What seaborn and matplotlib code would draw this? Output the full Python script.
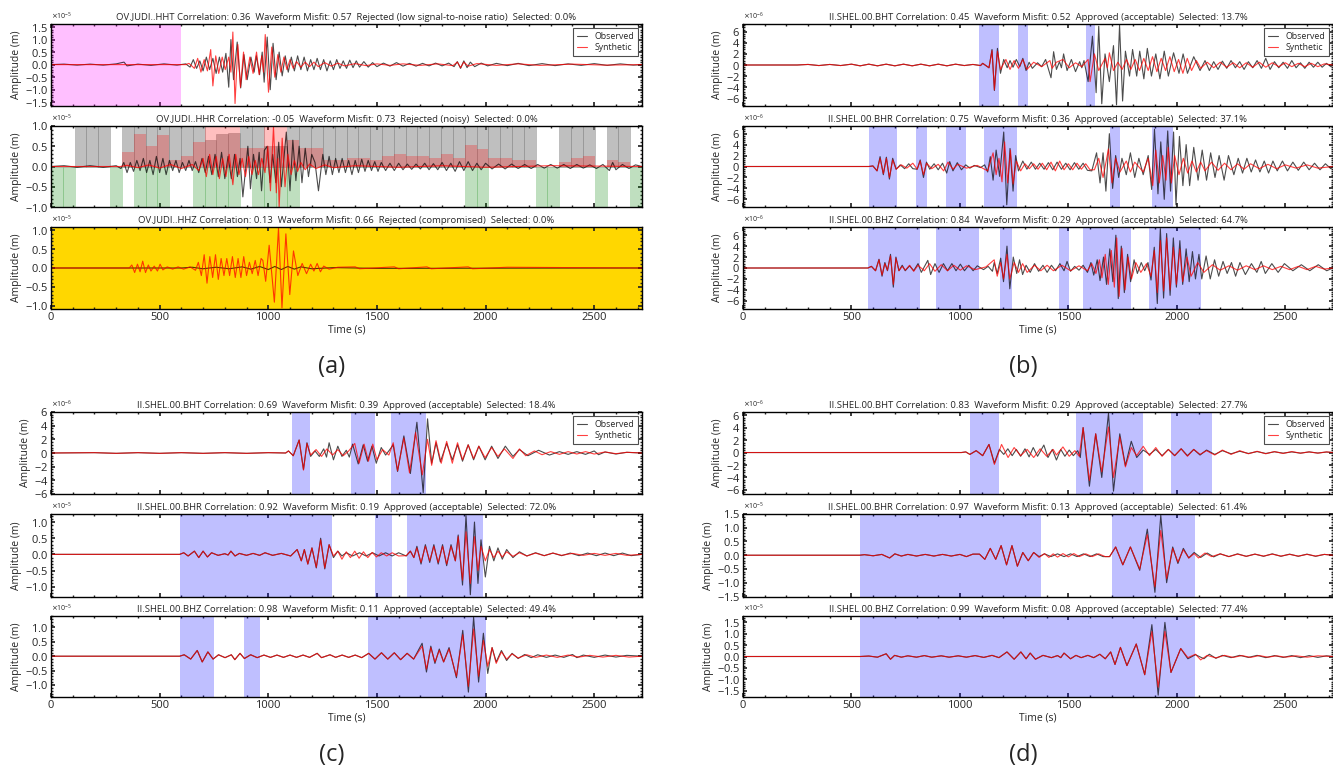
import numpy as np
import matplotlib
matplotlib.use('Agg')
import matplotlib.pyplot as plt
from matplotlib.ticker import MultipleLocator, AutoMinorLocator
import seaborn as sns

# ---------------------------------------------------------------------------
# Data (times in s, amplitudes in units of the axis exponent)
# ---------------------------------------------------------------------------
t_end = 2720

titles = {
    'a1': 'OV.JUDI..HHT Correlation: 0.36  Waveform Misfit: 0.57  Rejected (low signal-to-noise ratio)  Selected: 0.0%',
    'a2': 'OV.JUDI..HHR Correlation: -0.05  Waveform Misfit: 0.73  Rejected (noisy)  Selected: 0.0%',
    'a3': 'OV.JUDI..HHZ Correlation: 0.13  Waveform Misfit: 0.66  Rejected (compromised)  Selected: 0.0%',
    'b1': 'II.SHEL.00.BHT Correlation: 0.45  Waveform Misfit: 0.52  Approved (acceptable)  Selected: 13.7%',
    'b2': 'II.SHEL.00.BHR Correlation: 0.75  Waveform Misfit: 0.36  Approved (acceptable)  Selected: 37.1%',
    'b3': 'II.SHEL.00.BHZ Correlation: 0.84  Waveform Misfit: 0.29  Approved (acceptable)  Selected: 64.7%',
    'c1': 'II.SHEL.00.BHT Correlation: 0.69  Waveform Misfit: 0.39  Approved (acceptable)  Selected: 18.4%',
    'c2': 'II.SHEL.00.BHR Correlation: 0.92  Waveform Misfit: 0.19  Approved (acceptable)  Selected: 72.0%',
    'c3': 'II.SHEL.00.BHZ Correlation: 0.98  Waveform Misfit: 0.11  Approved (acceptable)  Selected: 49.4%',
    'd1': 'II.SHEL.00.BHT Correlation: 0.83  Waveform Misfit: 0.29  Approved (acceptable)  Selected: 27.7%',
    'd2': 'II.SHEL.00.BHR Correlation: 0.97  Waveform Misfit: 0.13  Approved (acceptable)  Selected: 61.4%',
    'd3': 'II.SHEL.00.BHZ Correlation: 0.99  Waveform Misfit: 0.08  Approved (acceptable)  Selected: 77.4%',
}

# selected time windows
win_a1 = [(0, 600)]
win_b1 = [(1087, 1179), (1266, 1312), (1579, 1621)]
win_b2 = [(580, 709), (796, 847), (934, 1027), (1110, 1262), (1690, 1740), (1884, 1984)]
win_b3 = [(576, 818), (889, 1090), (1186, 1238), (1455, 1502), (1566, 1791), (1871, 2113)]
win_c1 = [(1107, 1194), (1383, 1489), (1566, 1726)]
win_c2 = [(592, 1294), (1492, 1568), (1640, 1989)]
win_c3 = [(592, 748), (886, 961), (1458, 2002)]
win_d1 = [(1048, 1178), (1537, 1846), (1975, 2160)]
win_d2 = [(538, 1373), (1702, 2084)]
win_d3 = [(541, 2084)]

# noise / signal bars of OV.JUDI..HHR (50 windows)
bar_width = 54.4
bar_gray = [0, 0, 1, 1, 1, 0, 1, 1, 1, 1, 1, 1, 1, 0.65, 0.8, 0.83, 1, 1, 0.5, 0.5,
            1, 1, 1, 1, 1, 1, 1, 1, 1, 1, 1, 1, 1, 1, 1, 1, 1, 1, 1, 1,
            1, 0, 0, 1, 1, 1, 0, 1, 1, 0]
bar_red = [0, 0, 0, 0, 0, 0, 0.35, 0.8, 0.5, 0.77, 0.15, 0.25, 0.6, 1, 1, 1, 0.45, 0.45, 1, 1,
           0.65, 0.45, 0.45, 0.15, 0.15, 0.2, 0.2, 0.15, 0.25, 0.3, 0.25, 0.25, 0.2, 0.3, 0.2,
           0.52, 0.42, 0.2, 0.2, 0.15, 0.15, 0, 0, 0.1, 0.2, 0.25, 0, 0.15, 0.1, 0]
bar_green = [1, 1, 0, 0, 0, 1, 0, 1, 1, 1, 0, 0, 1, 1, 1, 1, 0, 1, 1, 1,
             1, 0, 0, 0, 0, 0, 0, 0, 0, 0, 0, 0, 0, 0, 0, 1, 1, 0, 0, 0,
             0, 1, 1, 0, 0, 0, 1, 0, 0, 1]

a1_obs = [(0, 0), (60, 0.02), (120, -0.02), (180, 0.02), (240, -0.02), (300, 0.03), (336, 0.1), (350, -0.05),
          (400, 0.02), (460, -0.03), (520, 0.03), (580, -0.02), (620, 0.03), (640, -0.1), (655, 0.2), (670, -0.15),
          (685, 0.15), (700, -0.25), (715, 0.3), (730, -0.2), (745, 0.25), (760, -0.35), (775, 0.3), (790, -0.3),
          (805, 0.45), (818, -0.9), (828, 1.0), (840, -0.6), (857, 0.9), (873, -0.93), (888, 0.4), (903, -0.6),
          (920, 0.3), (935, -0.3), (945, 0.35), (960, -0.4), (972, 0.5), (981, -0.7), (995, 1.1), (1009, -1.0),
          (1022, 0.85), (1036, -0.6), (1050, 0.5), (1064, -0.45), (1078, 0.35), (1092, -0.3), (1106, 0.3),
          (1120, -0.25), (1135, 0.35), (1150, -0.2), (1165, 0.3), (1180, -0.25), (1195, 0.2), (1210, -0.2),
          (1225, 0.25), (1240, -0.2), (1255, 0.2), (1270, -0.25), (1285, 0.15), (1300, -0.2), (1315, 0.2),
          (1330, -0.15), (1345, 0.15), (1360, -0.15), (1375, 0.18), (1390, -0.12), (1405, 0.15), (1420, -0.1),
          (1440, 0.12), (1460, -0.1), (1480, 0.08), (1500, -0.08), (1530, 0.06), (1560, -0.06), (1590, 0.08),
          (1620, -0.06), (1650, 0.05), (1680, -0.06), (1710, 0.05), (1740, -0.05), (1770, 0.06), (1800, -0.05),
          (1830, 0.06), (1855, -0.08), (1870, 0.12), (1885, -0.15), (1900, 0.15), (1915, -0.12), (1930, 0.1),
          (1950, -0.08), (1980, 0.06), (2010, -0.05), (2050, 0.05), (2100, -0.04), (2150, 0.05), (2200, -0.04),
          (2260, 0.04), (2320, -0.04), (2380, 0.03), (2440, -0.03), (2500, 0.04), (2560, -0.03), (2620, 0.03),
          (2680, -0.02), (2720, 0)]
a1_syn = [(0, 0), (620, 0), (635, 0.05), (660, -0.15), (675, 0.25), (690, -0.3), (705, 0.2), (720, -0.25),
          (735, 0.6), (745, -0.85), (758, 0.35), (772, -0.35), (788, 0.3), (802, -0.2), (818, 0.3), (828, -0.3),
          (837, 1.3), (847, -1.55), (860, 0.8), (872, -0.9), (886, 0.5), (898, -0.6), (915, 0.3), (930, -0.35),
          (946, 0.5), (958, -0.4), (970, 0.35), (978, -0.3), (986, 1.2), (1001, -1.1), (1016, 0.7), (1030, -0.5),
          (1044, 0.4), (1058, -0.3), (1072, 0.3), (1086, -0.2), (1100, 0.2), (1115, -0.15), (1130, 0.12),
          (1150, -0.1), (1170, 0.1), (1190, -0.08), (1210, 0.1), (1230, -0.08), (1260, 0.08), (1290, -0.06),
          (1320, 0.06), (1350, -0.05), (1400, 0.04), (1450, -0.04), (1500, 0.03), (1560, -0.03), (1620, 0.03),
          (1700, -0.03), (1780, 0.03), (1850, -0.04), (1870, 0.1), (1885, -0.12), (1900, 0.1), (1920, -0.06),
          (1960, 0.04), (2050, -0.03), (2150, 0.03), (2250, -0.03), (2400, 0.02), (2550, -0.02), (2720, 0)]

a2_obs = [(0, 0), (60, 0.02), (120, -0.02), (180, 0.02), (240, -0.02), (300, 0.02), (322, -0.05), (335, 0.1),
          (350, -0.15), (365, 0.1), (380, -0.12), (395, 0.15), (410, -0.1), (425, 0.2), (440, -0.15), (455, 0.15),
          (470, -0.2), (485, 0.25), (500, -0.15), (515, 0.2), (530, -0.2), (545, 0.15), (560, -0.1), (575, 0.15),
          (590, -0.15), (605, 0.1), (620, -0.1), (635, 0.15), (650, -0.1), (665, 0.12), (680, -0.15), (695, 0.2),
          (710, -0.15), (725, 0.25), (740, -0.2), (755, 0.3), (770, -0.25), (785, 0.35), (800, -0.3), (815, 0.25),
          (830, -0.3), (845, 0.3), (858, -0.25), (870, 0.2), (883, -0.75), (906, 0.5), (918, -0.55), (932, 0.3),
          (946, -0.3), (958, 0.35), (969, -0.6), (982, 0.4), (995, 0.5), (1008, -0.4), (1020, 0.3), (1035, -0.4),
          (1048, 0.6), (1060, -0.5), (1083, 0.85), (1100, -0.6), (1113, 0.65), (1127, -0.35), (1142, 0.5),
          (1155, -0.4), (1170, 0.45), (1185, -0.25), (1200, 0.3), (1215, 0.1), (1231, -0.6), (1251, 0.3),
          (1265, -0.2), (1280, 0.25), (1295, -0.2), (1310, 0.2), (1325, -0.15), (1340, 0.2), (1355, -0.15),
          (1370, 0.15), (1385, -0.2), (1400, 0.15), (1415, -0.15), (1430, 0.18), (1445, -0.12), (1460, 0.15),
          (1475, -0.1), (1490, 0.12), (1505, -0.12), (1520, 0.1), (1540, -0.1), (1560, 0.08), (1580, -0.1),
          (1600, 0.08), (1620, -0.08), (1640, 0.06), (1660, -0.07), (1680, 0.06), (1700, -0.06), (1720, 0.08),
          (1740, -0.08), (1760, 0.07), (1780, -0.08), (1800, 0.1), (1820, -0.1), (1840, 0.08), (1860, -0.12),
          (1880, 0.12), (1900, -0.1), (1920, 0.12), (1940, -0.1), (1960, 0.08), (1980, -0.08), (2000, 0.08),
          (2030, -0.06), (2060, 0.06), (2090, -0.06), (2120, 0.06), (2150, -0.05), (2180, 0.05), (2210, -0.05),
          (2240, 0.05), (2270, -0.04), (2300, 0.05), (2330, -0.04), (2360, 0.05), (2390, -0.05), (2420, 0.05),
          (2450, -0.04), (2480, 0.04), (2510, -0.05), (2540, 0.05), (2570, -0.1), (2585, 0.1), (2600, -0.08),
          (2630, 0.05), (2660, -0.05), (2690, 0.04), (2720, 0)]
a2_syn = [(0, 0), (320, 0), (350, 0.03), (400, -0.03), (450, 0.04), (500, -0.04), (550, 0.05), (600, -0.05),
          (650, 0.05), (680, -0.1), (700, 0.2), (715, -0.25), (730, 0.3), (745, -0.2), (760, 0.25), (775, -0.3),
          (790, 0.2), (805, -0.25), (820, 0.3), (837, -0.45), (850, 0.3), (865, -0.2), (880, 0.2), (895, -0.25),
          (910, 0.25), (925, -0.2), (940, 0.15), (955, -0.2), (970, 0.2), (985, -0.15), (998, 0.5), (1010, -0.6),
          (1024, 0.98), (1037, -0.65), (1044, 0.2), (1050, -1.0), (1064, 0.7), (1077, -0.5), (1090, 0.3),
          (1105, -0.2), (1120, 0.15), (1135, -0.12), (1150, 0.1), (1170, -0.08), (1190, 0.06), (1220, -0.05),
          (1260, 0.04), (1300, -0.03), (1400, 0.02), (1600, -0.02), (1800, 0.02), (2000, -0.02), (2300, 0.02),
          (2720, 0)]

a3_obs = [(0, 0), (600, 0), (650, 0.02), (700, -0.02), (760, 0.02), (820, -0.02), (880, 0.03), (920, -0.03),
          (960, 0.04), (1000, -0.04), (1030, 0.04), (1060, -0.04), (1090, 0.04), (1120, -0.03), (1150, 0.03),
          (1200, -0.02), (1300, 0.01), (1500, -0.01), (2720, 0)]
a3_syn = [(0, 0), (360, 0), (372, 0.08), (385, -0.12), (398, 0.1), (410, -0.1), (422, 0.18), (435, -0.12),
          (448, 0.08), (460, -0.08), (475, 0.05), (490, -0.08), (502, 0.1), (515, -0.05), (535, 0.03),
          (560, -0.03), (585, 0.03), (610, -0.03), (640, 0.03), (665, -0.06), (678, 0.15), (692, -0.2),
          (705, 0.35), (718, -0.4), (731, 0.3), (744, -0.25), (757, 0.35), (770, -0.3), (783, 0.25), (796, -0.2),
          (809, 0.25), (822, -0.2), (835, 0.3), (848, -0.25), (861, 0.25), (874, -0.25), (887, 0.3), (900, -0.2),
          (913, 0.15), (926, -0.15), (940, 0.2), (953, -0.2), (967, 0.25), (975, 0.2), (988, -0.35), (1004, 0.6),
          (1028, -0.9), (1047, 1.05), (1063, -1.05), (1081, 0.9), (1099, -0.7), (1116, 0.45), (1136, -0.2),
          (1156, 0.12), (1176, -0.15), (1195, 0.1), (1210, -0.08), (1225, 0.12), (1240, -0.1), (1255, 0.05),
          (1280, -0.03), (1320, 0.02), (1400, 0.03), (1420, -0.02), (1580, 0.03), (1600, -0.02), (1730, 0.03),
          (1750, -0.02), (1920, 0.03), (1940, -0.02), (2100, 0.02), (2720, 0)]

b1_obs = [(0, 0), (250, 0), (300, 0.1), (350, -0.1), (400, 0.1), (450, -0.1), (500, 0.15), (540, -0.15),
          (580, 0.15), (620, -0.15), (660, 0.15), (700, -0.15), (740, 0.15), (780, -0.15), (820, 0.15),
          (860, -0.15), (900, 0.15), (940, -0.15), (980, 0.15), (1020, -0.1), (1060, 0.1), (1095, -0.1),
          (1105, 0.3), (1134, -0.5), (1148, 2.8), (1159, -4.6), (1173, 3.0), (1187, -1.5), (1202, 1.0),
          (1218, -0.5), (1231, 0.8), (1245, -0.4), (1260, 1.0), (1276, -0.3), (1290, 1.2), (1305, -1.0),
          (1319, 0.5), (1334, -0.6), (1358, 0.4), (1377, -0.3), (1395, 1.0), (1420, -2.3), (1432, 2.4),
          (1445, -0.8), (1459, 0.6), (1468, -0.5), (1478, 2.0), (1494, -1.0), (1514, 1.0), (1533, -1.2),
          (1552, 0.6), (1562, -0.5), (1572, 0.8), (1591, -3.0), (1611, 5.2), (1628, -5.0), (1640, 7.0),
          (1654, -7.0), (1669, 2.0), (1689, -3.0), (1708, 3.5), (1722, -7.2), (1736, 7.2), (1750, -6.5),
          (1763, 2.5), (1782, -2.0), (1796, 2.8), (1815, -2.0), (1829, 2.5), (1848, -2.5), (1864, 3.0),
          (1883, -2.0), (1903, 2.0), (1922, -2.5), (1942, 2.5), (1961, -2.0), (1985, 2.2), (2010, -1.5),
          (2029, 2.0), (2049, -1.5), (2078, 1.5), (2107, -1.0), (2130, 0.8), (2150, -1.0), (2170, 0.6),
          (2190, -0.8), (2210, 0.7), (2230, -0.6), (2250, 0.8), (2270, -0.5), (2290, 0.6), (2310, -0.8),
          (2330, 0.6), (2350, -0.5), (2370, 0.8), (2390, -0.6), (2410, 1.2), (2430, -0.8), (2450, 0.6),
          (2470, -0.5), (2490, 0.5), (2510, -0.6), (2530, 0.8), (2550, -0.5), (2570, 0.4), (2590, -0.6),
          (2610, 0.5), (2630, -0.4), (2650, 0.5), (2670, -0.4), (2690, 0.3), (2710, -0.3), (2720, 0)]
b1_syn = [(0, 0), (250, 0), (300, 0.1), (350, -0.1), (400, 0.1), (450, -0.1), (500, 0.15), (540, -0.15),
          (580, 0.15), (620, -0.15), (660, 0.15), (700, -0.15), (740, 0.15), (780, -0.15), (820, 0.15),
          (860, -0.15), (900, 0.15), (940, -0.15), (980, 0.15), (1020, -0.1), (1060, 0.1), (1095, -0.1),
          (1105, 0.3), (1134, -0.5), (1148, 2.6), (1159, -4.5), (1173, 2.5), (1187, -0.8), (1212, 1.0),
          (1231, -0.8), (1250, 0.8), (1270, -0.6), (1290, 1.0), (1309, -0.8), (1340, 0.5), (1377, -0.3),
          (1415, 0.8), (1425, -0.6), (1445, 0.5), (1475, 1.0), (1504, -0.5), (1533, 0.4), (1562, -0.3),
          (1591, 1.0), (1600, -3.0), (1620, 2.0), (1640, -1.0), (1669, 1.2), (1680, -0.5), (1689, 2.2),
          (1708, -1.0), (1728, 0.5), (1748, -0.8), (1768, 1.0), (1788, -0.8), (1808, 1.0), (1828, -1.0),
          (1848, 1.2), (1868, -1.0), (1888, 1.5), (1908, -1.2), (1928, 1.2), (1948, -1.0), (1968, 1.5),
          (1988, -1.2), (2008, 1.0), (2028, -1.5), (2048, 1.2), (2068, -1.0), (2090, 0.8), (2110, -0.6),
          (2140, 0.5), (2170, -0.5), (2200, 0.5), (2230, -0.4), (2260, 0.4), (2290, -0.5), (2320, 0.4),
          (2350, -0.4), (2380, 0.5), (2410, -0.4), (2440, 0.4), (2470, -0.3), (2500, 0.4), (2530, -0.3),
          (2560, 0.3), (2590, -0.3), (2620, 0.3), (2650, -0.3), (2680, 0.2), (2720, 0)]

b2_obs = [(0, 0), (580, 0), (599, 0.1), (618, -0.8), (632, 1.8), (647, -1.5), (661, 1.7), (675, -2.3),
          (690, 1.5), (706, -0.5), (725, 0.3), (745, -0.4), (764, 0.5), (783, -0.4), (803, -0.5), (817, 1.2),
          (832, -2.0), (846, 0.8), (861, -0.5), (881, 0.5), (900, -0.6), (920, 0.6), (939, -1.2), (953, 0.9),
          (968, -0.8), (988, 0.7), (1007, -0.6), (1027, 0.3), (1046, -0.3), (1066, 0.2), (1095, -0.2),
          (1114, 0.3), (1128, -1.0), (1140, 1.8), (1153, -2.5), (1167, 3.0), (1183, -1.8), (1202, 6.3),
          (1216, -7.0), (1231, 3.3), (1245, -4.5), (1257, 2.0), (1270, -0.8), (1290, 1.0), (1309, -0.5),
          (1329, 0.8), (1348, -0.5), (1368, 0.6), (1388, -0.5), (1408, 0.7), (1428, -0.6), (1448, 0.8),
          (1468, -0.5), (1488, 0.6), (1508, -0.6), (1528, 0.7), (1548, -0.5), (1568, 0.6), (1588, -0.7),
          (1608, -0.8), (1630, 2.5), (1646, -3.0), (1660, 2.5), (1673, -4.5), (1689, 6.0), (1704, -4.0),
          (1718, 2.0), (1732, -2.0), (1747, 1.5), (1767, -1.5), (1786, 2.5), (1806, -2.0), (1825, 1.5),
          (1845, -1.5), (1868, 2.0), (1884, -4.2), (1897, 6.8), (1913, -5.0), (1926, 4.5), (1942, -6.0),
          (1958, 6.5), (1971, -4.5), (1985, 6.3), (1996, -7.0), (2012, 5.5), (2028, -3.5), (2043, 4.0),
          (2059, -3.5), (2078, 3.5), (2098, -2.5), (2117, 3.0), (2137, -2.5), (2156, 2.5), (2176, -2.0),
          (2195, 2.0), (2218, -2.5), (2238, 2.0), (2263, -1.5), (2283, 1.5), (2303, -1.2), (2323, 1.5),
          (2343, -1.0), (2363, 1.2), (2383, -1.0), (2403, 1.0), (2423, -1.2), (2443, 1.0), (2463, -0.8),
          (2487, 1.0), (2510, -0.8), (2535, 0.8), (2560, -0.7), (2585, 0.8), (2610, -0.6), (2635, 0.6),
          (2660, -0.6), (2685, 0.5), (2710, -0.4), (2720, 0)]
b2_syn = [(0, 0), (580, 0), (599, 0.1), (618, -0.8), (632, 1.5), (647, -1.3), (661, 1.5), (675, -2.0),
          (690, 1.2), (706, -0.5), (730, 0.3), (755, -0.3), (783, 0.6), (803, -0.5), (817, 1.0), (832, -1.5),
          (846, 0.6), (870, -0.4), (900, 0.4), (925, -0.8), (945, 0.8), (968, -0.5), (990, 0.4), (1030, -0.3),
          (1080, 0.2), (1128, -0.8), (1153, 2.5), (1167, -1.5), (1180, 1.5), (1194, -2.8), (1206, 4.5),
          (1220, -3.0), (1233, 3.0), (1245, -3.2), (1260, 1.0), (1280, -0.8), (1300, 0.5), (1320, -0.4),
          (1340, 0.5), (1360, -0.5), (1380, 0.6), (1400, -0.6), (1420, 0.8), (1440, -0.8), (1460, 1.0),
          (1480, -0.6), (1500, 0.5), (1520, -0.6), (1540, 0.6), (1560, -0.5), (1580, 0.5), (1600, -0.6),
          (1620, -0.6), (1640, 1.5), (1660, -2.0), (1685, 3.2), (1701, -3.0), (1718, 1.5), (1738, -1.0),
          (1767, 1.0), (1786, -1.0), (1806, 0.8), (1845, -1.0), (1868, 1.5), (1889, -3.5), (1903, 3.0),
          (1919, -3.0), (1935, 2.0), (1950, -2.5), (1960, 3.5), (1975, -3.0), (1990, 2.0), (2010, -1.5),
          (2030, 1.5), (2050, -1.2), (2070, 1.0), (2090, -1.0), (2110, 0.8), (2130, -0.8), (2160, 0.8),
          (2190, -0.7), (2220, 0.6), (2250, -0.6), (2280, 0.5), (2310, -0.5), (2340, 0.5), (2380, -0.4),
          (2420, 0.4), (2460, -0.4), (2500, 0.3), (2550, -0.3), (2600, 0.3), (2650, -0.3), (2720, 0)]

b3_obs = [(0, 0), (576, 0), (592, 0.3), (611, -0.5), (627, 1.6), (641, -1.5), (654, 1.0), (666, -0.5),
          (680, 2.5), (693, -3.5), (705, 2.0), (719, -0.5), (734, 0.5), (748, -0.5), (768, 0.4), (787, -0.5),
          (807, 0.8), (822, -0.8), (852, 1.4), (865, -1.2), (885, 0.8), (904, -0.8), (924, 0.8), (943, -0.5),
          (963, 0.8), (982, -0.5), (1002, 0.7), (1021, -0.5), (1041, 0.5), (1061, -0.5), (1080, 0.4),
          (1109, -0.3), (1130, 0.3), (1150, -0.6), (1158, 1.0), (1172, -1.0), (1188, 1.8), (1201, -2.5),
          (1217, 4.0), (1230, -3.8), (1246, 2.0), (1262, -1.0), (1275, 1.5), (1289, -1.2), (1305, 0.5),
          (1324, -0.8), (1344, 0.8), (1363, -0.6), (1383, 0.5), (1402, -0.8), (1422, 0.5), (1441, -0.5),
          (1461, 0.8), (1480, -0.5), (1494, 1.2), (1510, -0.6), (1529, 0.3), (1549, -0.4), (1568, 0.5),
          (1588, -0.8), (1604, 1.0), (1617, -1.3), (1633, 1.5), (1646, -2.3), (1662, 2.0), (1676, -3.0),
          (1691, 3.5), (1705, -2.5), (1719, 6.0), (1730, -5.6), (1744, 4.0), (1758, -4.5), (1773, 2.5),
          (1787, -2.5), (1803, 1.5), (1818, -1.0), (1836, 1.0), (1852, -0.5), (1867, 1.0), (1881, -2.2),
          (1896, 3.8), (1910, -6.5), (1924, 7.2), (1939, -5.5), (1953, 6.3), (1969, -5.0), (1984, 5.5),
          (1998, -3.5), (2014, 5.0), (2027, -3.0), (2043, 3.5), (2057, -2.5), (2072, 3.0), (2086, -2.0),
          (2102, 2.5), (2115, -2.0), (2135, 2.2), (2154, -2.0), (2174, 1.5), (2193, -1.5), (2213, 1.2),
          (2232, -1.0), (2252, 1.0), (2271, -1.5), (2291, 1.0), (2316, -1.2), (2344, 0.8), (2369, -0.8),
          (2389, 1.2), (2408, -1.0), (2438, 0.8), (2467, -0.8), (2496, 0.8), (2535, -0.5), (2574, 0.6),
          (2613, -0.5), (2652, 0.6), (2691, -0.5), (2720, 0)]
b3_syn = [(0, 0), (576, 0), (592, 0.3), (611, -0.5), (627, 1.5), (641, -1.3), (654, 0.8), (666, -0.4),
          (680, 2.2), (693, -3.0), (705, 1.8), (719, -0.5), (734, 0.3), (748, -0.4), (768, 0.5), (787, -0.6),
          (807, 0.5), (836, -0.5), (860, 0.8), (885, -0.6), (914, 0.6), (943, -0.5), (972, 0.5), (1002, -0.4),
          (1031, 0.4), (1070, -0.3), (1120, 0.2), (1158, 1.5), (1172, -1.5), (1188, 1.0), (1201, -2.0),
          (1217, 2.5), (1230, -2.0), (1250, 1.0), (1270, -0.8), (1289, 0.8), (1310, -0.8), (1344, 0.5),
          (1373, -0.5), (1402, 0.5), (1431, -0.5), (1470, 0.5), (1510, -0.5), (1549, 0.4), (1588, -0.5),
          (1608, 0.8), (1627, -1.0), (1643, 1.5), (1655, -1.8), (1670, 2.5), (1684, -3.0), (1698, 3.2),
          (1712, -3.5), (1723, 5.5), (1734, -5.2), (1747, 3.6), (1761, -4.0), (1775, 2.0), (1791, -2.0),
          (1811, 1.0), (1834, -0.8), (1860, 0.8), (1881, -1.5), (1896, 3.2), (1910, -4.5), (1924, 5.0),
          (1939, -4.2), (1953, 5.5), (1969, -4.0), (1984, 3.8), (1998, -3.0), (2014, 3.5), (2027, -2.5),
          (2047, 2.0), (2066, -1.5), (2096, 1.0), (2125, -0.8), (2164, 0.6), (2200, -0.4), (2240, 0.4),
          (2280, -0.4), (2320, 0.4), (2360, -0.3), (2400, 0.4), (2440, -0.3), (2480, 0.3), (2520, -0.3),
          (2560, 0.3), (2600, -0.3), (2640, 0.3), (2680, -0.2), (2720, 0)]

c_pre = [(0, 0), (200, 0.05), (300, -0.05), (400, 0.05), (500, -0.05), (600, 0.05), (700, -0.05),
         (800, 0.05), (900, -0.05), (1000, 0.05), (1080, 0)]
c1_obs = c_pre + [(1093, 0.3), (1115, -0.4), (1142, 1.9), (1162, -2.4), (1178, 1.5), (1195, -0.5),
                  (1215, 0.3), (1235, -0.5), (1255, 0.6), (1268, -0.6), (1280, 1.5), (1300, -1.0), (1320, 1.0),
                  (1339, -0.5), (1359, 0.4), (1373, -0.6), (1388, 1.3), (1414, -1.6), (1437, 1.2), (1457, -1.2),
                  (1477, 1.0), (1497, -1.5), (1520, 0.8), (1540, -0.3), (1557, 0.4), (1575, 1.2), (1595, -2.7),
                  (1624, 2.5), (1654, -3.0), (1684, 4.5), (1713, -5.8), (1733, 5.0), (1752, -1.5), (1772, 1.5),
                  (1792, -1.3), (1821, 1.4), (1847, -1.0), (1871, 1.2), (1894, -1.2), (1920, 1.2), (1945, -1.0),
                  (1969, 1.0), (1998, -1.0), (2028, 1.0), (2057, -0.8), (2091, 1.0), (2126, -0.5), (2156, 0.5),
                  (2195, -0.4), (2244, 0.4), (2294, -0.3), (2340, 0.2), (2380, -0.2), (2420, 0.2), (2460, -0.2),
                  (2500, 0.3), (2520, -0.25), (2550, 0.15), (2600, -0.15), (2650, 0.1), (2720, 0)]
c1_syn = c_pre + [(1093, 0.3), (1115, -0.4), (1142, 1.9), (1162, -2.5), (1178, 1.4), (1195, -0.3),
                  (1220, 0.5), (1245, -0.5), (1270, 0.6), (1296, -0.3), (1320, 0.5), (1345, -0.4), (1370, 0.3),
                  (1398, 1.4), (1418, -1.5), (1441, 1.3), (1461, -1.2), (1481, 1.3), (1500, -1.0), (1526, 0.5),
                  (1555, -0.3), (1575, 1.5), (1595, -2.6), (1624, 2.2), (1650, -2.9), (1678, 3.0), (1709, -3.2),
                  (1733, 2.0), (1752, -1.8), (1772, 1.8), (1796, -1.5), (1821, 1.7), (1847, -1.5), (1871, 1.5),
                  (1894, -1.0), (1920, 1.2), (1945, -0.8), (1969, 1.0), (1998, -0.7), (2028, 0.8), (2057, -0.5),
                  (2087, 0.6), (2126, -0.8), (2156, 0.6), (2185, -0.4), (2225, 0.3), (2260, -0.25), (2300, 0.2),
                  (2340, -0.2), (2380, 0.2), (2420, -0.15), (2460, 0.2), (2500, -0.15), (2550, 0.15),
                  (2600, -0.1), (2650, 0.1), (2720, 0)]

c2_pre = [(0, 0), (592, 0), (611, 0.05), (631, -0.05), (660, 0.1), (680, -0.1), (700, 0.1), (720, -0.08),
          (739, 0.05), (769, -0.03), (800, 0.02), (815, -0.02), (828, 0.1), (847, -0.05), (867, 0.03),
          (900, -0.03), (930, 0.03), (960, -0.03), (985, 0.05), (1020, -0.03), (1060, 0.03), (1103, -0.05),
          (1133, 0.15), (1152, -0.2), (1166, 0.15), (1182, -0.3), (1201, 0.2)]
c2_obs = c2_pre + [(1221, -0.42), (1241, 0.5), (1260, -0.45), (1280, 0.3), (1300, -0.1), (1320, 0.1),
                   (1339, -0.05), (1359, 0.05), (1388, -0.05), (1420, 0.05), (1450, -0.05), (1480, 0.05),
                   (1510, -0.05), (1540, 0.05), (1570, -0.05), (1600, 0.05), (1635, -0.05), (1654, 0.1),
                   (1670, -0.1), (1684, 0.25), (1703, -0.3), (1723, 0.3), (1743, -0.25), (1762, 0.3),
                   (1782, -0.3), (1802, 0.3), (1821, -0.35), (1841, 0.3), (1861, -0.2), (1874, 0.6),
                   (1894, -0.95), (1910, 1.2), (1930, -1.25), (1949, 1.0), (1965, -0.9), (1979, 0.45),
                   (1999, -0.7), (2018, 0.25), (2038, -0.2), (2057, 0.2), (2077, -0.15), (2097, 0.15),
                   (2126, -0.1), (2156, 0.08), (2190, -0.05), (2230, 0.05), (2270, -0.04), (2310, 0.04),
                   (2350, -0.04), (2390, 0.04), (2430, -0.04), (2470, 0.04), (2510, -0.04), (2550, 0.04),
                   (2590, -0.04), (2630, 0.04), (2670, -0.04), (2720, 0)]
c2_syn = c2_pre + [(1221, -0.4), (1241, 0.45), (1260, -0.42), (1280, 0.3), (1300, -0.05), (1320, 0.1),
                   (1339, -0.15), (1359, 0.08), (1378, -0.1), (1398, 0.1), (1418, -0.12), (1438, 0.08),
                   (1458, -0.1), (1478, 0.06), (1498, -0.08), (1520, 0.05), (1545, -0.05), (1570, 0.05),
                   (1600, -0.05), (1635, -0.04), (1654, 0.1), (1670, -0.1), (1684, 0.2), (1703, -0.25),
                   (1723, 0.25), (1743, -0.2), (1762, 0.25), (1782, -0.25), (1802, 0.25), (1821, -0.3),
                   (1841, 0.25), (1861, -0.2), (1874, 0.55), (1894, -0.8), (1910, 0.7), (1930, -0.9),
                   (1949, 0.55), (1965, -0.5), (1979, 0.25), (1999, -0.2), (2018, 0.15), (2038, -0.1),
                   (2057, 0.1), (2077, -0.08), (2097, 0.08), (2126, -0.06), (2156, 0.05), (2190, -0.05),
                   (2230, 0.04), (2270, -0.04), (2310, 0.04), (2350, -0.03), (2400, 0.03), (2450, -0.03),
                   (2500, 0.03), (2550, -0.03), (2600, 0.03), (2650, -0.03), (2720, 0)]

c3_pre = [(0, 0), (592, 0), (613, 0.05), (643, -0.1), (673, 0.2), (696, -0.2), (722, 0.15), (746, -0.1),
          (771, 0.05), (801, -0.05), (830, 0.05), (846, -0.12), (870, 0.1), (890, -0.08), (919, 0.05),
          (949, -0.05), (980, 0.04), (1010, -0.04), (1040, 0.04), (1070, -0.04), (1100, 0.04), (1130, -0.04),
          (1160, 0.04), (1190, -0.04), (1225, 0.1), (1245, -0.05), (1284, 0.05), (1310, -0.04), (1340, 0.04),
          (1370, -0.04), (1400, 0.04), (1430, -0.05), (1462, 0.1), (1491, -0.1), (1521, 0.12), (1550, -0.1),
          (1580, 0.12), (1609, -0.12), (1639, 0.1), (1669, -0.1)]
c3_obs = c3_pre + [(1708, 0.45), (1728, -0.55), (1748, 0.35), (1767, -0.25), (1787, 0.25), (1807, -0.2),
                   (1832, 0.3), (1866, -0.75), (1895, 0.9), (1921, -1.25), (1945, 1.35), (1968, -0.9),
                   (1990, 0.8), (2010, -0.6), (2030, 0.3), (2049, -0.2), (2073, 0.2), (2097, -0.15),
                   (2122, 0.1), (2150, -0.08), (2180, 0.06), (2210, -0.05), (2240, 0.05), (2280, -0.04),
                   (2320, 0.04), (2360, -0.04), (2400, 0.06), (2420, -0.05), (2450, 0.04), (2500, -0.04),
                   (2550, 0.04), (2600, -0.03), (2650, 0.03), (2720, 0)]
c3_syn = c3_pre + [(1708, 0.35), (1728, -0.45), (1748, 0.3), (1767, -0.2), (1787, 0.2), (1807, -0.2),
                   (1832, 0.25), (1866, -0.7), (1895, 0.75), (1921, -1.05), (1945, 0.95), (1968, -0.7),
                   (1990, 0.55), (2010, -0.35), (2030, 0.3), (2049, -0.25), (2073, 0.15), (2097, -0.1),
                   (2122, 0.08), (2150, -0.06), (2190, 0.05), (2230, -0.04), (2280, 0.04), (2330, -0.04),
                   (2380, 0.04), (2430, -0.03), (2480, 0.03), (2540, -0.03), (2600, 0.03), (2660, -0.03),
                   (2720, 0)]

d1_pre = [(0, 0), (1007, 0), (1027, 0.1), (1046, -0.3), (1075, 0.3), (1105, -0.5), (1134, 1.3)]
d1_obs = d1_pre + [(1159, -1.7), (1182, 0.5), (1202, -0.3), (1221, 0.6), (1241, -0.5), (1260, 0.5),
                   (1280, -0.6), (1300, 0.6), (1319, -0.7), (1338, 0.8), (1358, -0.6), (1387, 1.2),
                   (1406, -0.8), (1426, 0.5), (1445, -1.2), (1465, 0.5), (1484, -0.6), (1504, 0.4),
                   (1523, -0.5), (1543, 0.3), (1555, -0.8), (1568, 4.0), (1597, -5.4), (1626, 3.0),
                   (1654, -4.0), (1685, 6.3), (1708, -6.2), (1737, 3.0), (1763, -2.1), (1790, 1.8),
                   (1815, -0.8), (1845, 0.4), (1874, -0.3), (1903, 0.5), (1932, -0.5), (1961, 0.5),
                   (1990, -0.5), (2020, 0.6), (2049, -0.5), (2078, 0.5), (2107, -0.4), (2137, 0.4),
                   (2175, -0.3), (2210, 0.3), (2250, -0.2), (2290, 0.2), (2330, -0.15), (2370, 0.15),
                   (2410, -0.15), (2450, 0.12), (2490, -0.1), (2530, 0.1), (2570, -0.1), (2610, 0.1),
                   (2650, -0.08), (2690, 0.08), (2720, 0)]
d1_syn = d1_pre + [(1159, -1.9), (1192, 1.3), (1222, -0.8), (1250, 0.8), (1280, -0.5), (1310, 0.5),
                   (1340, -0.8), (1370, 0.6), (1400, -0.6), (1430, 0.5), (1445, -0.4), (1475, 0.9),
                   (1504, -0.6), (1530, 0.3), (1550, -0.6), (1568, 4.0), (1597, -4.5), (1626, 3.0),
                   (1654, -3.1), (1685, 4.1), (1708, -4.0), (1737, 2.5), (1763, -2.3), (1790, 0.8),
                   (1815, -0.5), (1845, 1.0), (1874, -0.5), (1903, 0.8), (1932, -0.6), (1961, 0.5),
                   (1990, -0.5), (2020, 0.6), (2049, -0.6), (2078, 0.5), (2107, -0.3), (2137, 0.3),
                   (2175, -0.4), (2210, 0.4), (2250, -0.3), (2290, 0.3), (2330, -0.2), (2370, 0.2),
                   (2410, -0.2), (2450, 0.15), (2490, -0.15), (2530, 0.15), (2570, -0.1), (2610, 0.1),
                   (2650, -0.1), (2690, 0.1), (2720, 0)]

d2_pre = [(0, 0), (538, 0), (560, 0.02), (600, -0.02), (640, 0.03), (676, -0.1), (700, 0.05), (730, -0.03),
          (760, 0.03), (800, -0.03), (840, 0.03), (880, -0.03), (920, 0.03), (960, -0.03), (1000, 0.03),
          (1030, -0.05), (1060, 0.04), (1090, 0.04), (1115, -0.15), (1140, 0.25), (1165, -0.15),
          (1190, 0.35), (1215, -0.35), (1240, 0.35), (1265, -0.4), (1290, 0.1), (1315, -0.2), (1340, 0.1)]
d2_obs = d2_pre + [(1365, -0.05), (1390, 0.05), (1420, -0.05), (1450, 0.05), (1480, -0.05), (1510, 0.05),
                   (1540, -0.05), (1570, 0.05), (1600, -0.05), (1630, 0.05), (1660, -0.05), (1690, -0.05),
                   (1718, 0.3), (1751, -0.35), (1786, 0.3), (1829, -0.55), (1864, 0.95), (1899, -1.35),
                   (1926, 1.45), (1953, -1.0), (1981, 0.3), (2005, -0.3), (2030, 0.25), (2055, -0.1),
                   (2080, 0.1), (2110, -0.08), (2140, 0.08), (2170, -0.06), (2200, 0.05), (2240, -0.05),
                   (2280, 0.05), (2320, -0.04), (2360, 0.04), (2400, -0.04), (2440, 0.05), (2480, -0.04),
                   (2520, 0.04), (2560, -0.04), (2600, 0.04), (2640, -0.04), (2680, 0.03), (2720, 0)]
d2_syn = d2_pre + [(1365, -0.08), (1390, 0.06), (1410, -0.08), (1430, 0.05), (1450, -0.07), (1475, 0.06),
                   (1500, -0.06), (1525, 0.06), (1550, -0.05), (1580, 0.05), (1610, -0.05), (1640, 0.05),
                   (1670, -0.05), (1690, -0.05), (1718, 0.3), (1751, -0.35), (1786, 0.3), (1829, -0.5),
                   (1864, 0.75), (1899, -1.15), (1926, 0.9), (1953, -0.85), (1981, 0.25), (2005, -0.25),
                   (2030, 0.2), (2055, -0.1), (2080, 0.06), (2100, -0.1), (2130, 0.08), (2160, -0.05),
                   (2200, 0.05), (2240, -0.05), (2280, 0.04), (2320, -0.04), (2360, 0.04), (2400, -0.03),
                   (2440, 0.04), (2480, -0.03), (2520, 0.03), (2560, -0.03), (2600, 0.03), (2640, -0.03),
                   (2680, 0.03), (2720, 0)]

d3_pre = [(0, 0), (541, 0), (580, 0.02), (620, -0.03), (660, 0.12), (680, -0.12), (699, 0.05), (730, -0.03),
          (760, 0.03), (800, -0.03), (836, 0.04), (870, -0.03), (914, 0.03), (950, -0.03), (992, 0.03),
          (1030, -0.03), (1070, 0.04), (1110, -0.04), (1148, 0.05), (1180, -0.05), (1217, 0.2), (1250, -0.12),
          (1281, 0.2), (1305, -0.1), (1324, 0.15), (1348, -0.12), (1383, 0.05), (1422, -0.05), (1450, 0.04),
          (1465, -0.05), (1480, 0.15), (1510, -0.1), (1535, 0.05), (1559, -0.05), (1590, 0.05), (1617, -0.05),
          (1645, 0.1), (1670, -0.1), (1695, 0.2), (1715, -0.35), (1740, 0.4), (1770, -0.4), (1813, 0.55),
          (1852, -0.8)]
d3_obs = d3_pre + [(1885, 1.4), (1914, -1.7), (1945, 1.5), (1973, -0.7), (2018, 0.35), (2051, -0.1),
                   (2086, 0.08), (2125, -0.1), (2150, 0.1), (2180, -0.08), (2210, 0.05), (2250, -0.05),
                   (2290, 0.05), (2330, -0.04), (2370, 0.05), (2410, -0.05), (2450, 0.04), (2490, -0.04),
                   (2530, 0.04), (2570, -0.05), (2610, 0.04), (2650, -0.04), (2690, 0.03), (2720, 0)]
d3_syn = d3_pre + [(1885, 1.1), (1914, -1.35), (1945, 1.1), (1973, -0.7), (2018, 0.35), (2051, -0.05),
                   (2086, 0.1), (2110, -0.15), (2140, 0.05), (2180, -0.06), (2220, 0.05), (2260, -0.04),
                   (2300, 0.04), (2340, -0.04), (2380, 0.04), (2420, -0.03), (2460, 0.03), (2500, -0.03),
                   (2550, 0.03), (2600, -0.03), (2650, 0.03), (2720, 0)]

# ---------------------------------------------------------------------------
# Styling
# ---------------------------------------------------------------------------
sns.set_theme(style='ticks')
plt.rcParams['font.family'] = ['Open Sans', 'DejaVu Sans']
plt.rcParams.update({
    'xtick.direction': 'in', 'ytick.direction': 'in',
    'xtick.top': True, 'ytick.right': True,
    'xtick.major.size': 3, 'ytick.major.size': 3,
    'xtick.minor.size': 1.5, 'ytick.minor.size': 1.5,
    'xtick.labelsize': 8, 'ytick.labelsize': 8,
    'axes.linewidth': 1.0, 'axes.edgecolor': 'black',
    'mathtext.fontset': 'dejavusans',
})

fig = plt.figure(figsize=(13.33, 7.7), dpi=100)
W, H = 1333, 770


def add_ax(x0, x1, y0, y1):
    return fig.add_axes([x0 / W, 1 - y1 / H, (x1 - x0) / W, (y1 - y0) / H])


def draw_panel(ax, key, obs, syn, scale, ylim, ystep, windows=(), win_color='blue',
               legend=False, bottom=False, face=None):
    if face is not None:
        ax.set_facecolor(face)
    for (w0, w1) in windows:
        ax.axvspan(w0, w1, color=win_color, alpha=0.25, lw=0)
    ot = np.array([p[0] for p in obs]); oa = np.array([p[1] for p in obs]) * scale
    st = np.array([p[0] for p in syn]); sa = np.array([p[1] for p in syn]) * scale
    sns.lineplot(x=ot, y=oa, ax=ax, color='black', lw=0.8, alpha=0.7,
                 estimator=None, sort=False, label='Observed')
    sns.lineplot(x=st, y=sa, ax=ax, color='red', lw=0.8, alpha=0.75,
                 estimator=None, sort=False, label='Synthetic')
    if ax.get_legend() is not None:
        ax.get_legend().remove()
    if legend:
        leg = ax.legend(loc='upper right', fontsize=6.3, frameon=True, fancybox=False,
                        framealpha=1, edgecolor='0.3', handlelength=1.2, borderpad=0.4,
                        labelspacing=0.3)
        leg.get_frame().set_linewidth(0.8)
    ax.set_xlim(0, t_end)
    ax.set_ylim(ylim[0] * scale, ylim[1] * scale)
    ax.yaxis.set_major_locator(MultipleLocator(ystep * scale))
    ax.xaxis.set_major_locator(MultipleLocator(500))
    ax.xaxis.set_minor_locator(AutoMinorLocator(5))
    ax.yaxis.set_minor_locator(AutoMinorLocator(5))
    ax.ticklabel_format(axis='y', style='sci', scilimits=(0, 0), useMathText=True)
    ax.yaxis.get_offset_text().set_fontsize(5)
    ax.set_title(titles[key], fontsize=6.8, pad=3)
    ax.set_ylabel('Amplitude (m)', fontsize=7.5, labelpad=2)
    if bottom:
        ax.set_xlabel('Time (s)', fontsize=7.5, labelpad=1)
    else:
        ax.set_xlabel('')
        ax.tick_params(axis='x', labelbottom=False)
    ax.tick_params(axis='both', which='both', pad=2)


left_x = (51, 642)
right_x = (743, 1333)
top_rows = [(24, 106), (126, 207), (227, 309)]
bot_rows = [(412, 494), (514, 597), (616, 697)]

# (a)
ax = add_ax(*left_x, *top_rows[0])
draw_panel(ax, 'a1', a1_obs, a1_syn, 1e-5, (-1.65, 1.62), 0.5, win_a1, win_color='magenta', legend=True)

ax = add_ax(*left_x, *top_rows[1])
edges = np.arange(len(bar_gray)) * bar_width
ax.bar(edges, np.array(bar_green) * -1.2e-5, width=bar_width, align='edge', color='green', alpha=0.25,
       edgecolor='green', linewidth=0.4)
ax.bar(edges, np.array(bar_gray) * 1.2e-5 * np.where(np.array(bar_gray) >= 1, 1, 1 / 1.2), width=bar_width,
       align='edge', color='gray', alpha=0.5, edgecolor='dimgray', linewidth=0.4)
ax.bar(edges, np.array(bar_red) * 1.2e-5 * np.where(np.array(bar_red) >= 1, 1, 1 / 1.2), width=bar_width,
       align='edge', color='red', alpha=0.25, linewidth=0)
draw_panel(ax, 'a2', a2_obs, a2_syn, 1e-5, (-1.0, 1.0), 0.5)

ax = add_ax(*left_x, *top_rows[2])
draw_panel(ax, 'a3', a3_obs, a3_syn, 1e-5, (-1.08, 1.08), 0.5, face='gold', bottom=True)

# (b)
ax = add_ax(*right_x, *top_rows[0])
draw_panel(ax, 'b1', b1_obs, b1_syn, 1e-6, (-7.4, 7.4), 2, win_b1, legend=True)
ax = add_ax(*right_x, *top_rows[1])
draw_panel(ax, 'b2', b2_obs, b2_syn, 1e-6, (-7.4, 7.4), 2, win_b2)
ax = add_ax(*right_x, *top_rows[2])
draw_panel(ax, 'b3', b3_obs, b3_syn, 1e-6, (-7.5, 7.5), 2, win_b3, bottom=True)

# (c)
ax = add_ax(*left_x, *bot_rows[0])
draw_panel(ax, 'c1', c1_obs, c1_syn, 1e-6, (-6.0, 6.0), 2, win_c1, legend=True)
ax = add_ax(*left_x, *bot_rows[1])
draw_panel(ax, 'c2', c2_obs, c2_syn, 1e-5, (-1.32, 1.25), 0.5, win_c2)
ax = add_ax(*left_x, *bot_rows[2])
draw_panel(ax, 'c3', c3_obs, c3_syn, 1e-5, (-1.42, 1.4), 0.5, win_c3, bottom=True)

# (d)
ax = add_ax(*right_x, *bot_rows[0])
draw_panel(ax, 'd1', d1_obs, d1_syn, 1e-6, (-6.65, 6.5), 2, win_d1, legend=True)
ax = add_ax(*right_x, *bot_rows[1])
draw_panel(ax, 'd2', d2_obs, d2_syn, 1e-5, (-1.52, 1.5), 0.5, win_d2)
ax = add_ax(*right_x, *bot_rows[2])
draw_panel(ax, 'd3', d3_obs, d3_syn, 1e-5, (-1.78, 1.78), 0.5, win_d3, bottom=True)

for lab, x, y in [('(a)', 332, 367), ('(b)', 1023, 367), ('(c)', 332, 755), ('(d)', 1023, 755)]:
    fig.text(x / W, 1 - y / H, lab, fontsize=17, ha='center', va='center')

fig.savefig('out.png', dpi=100)
